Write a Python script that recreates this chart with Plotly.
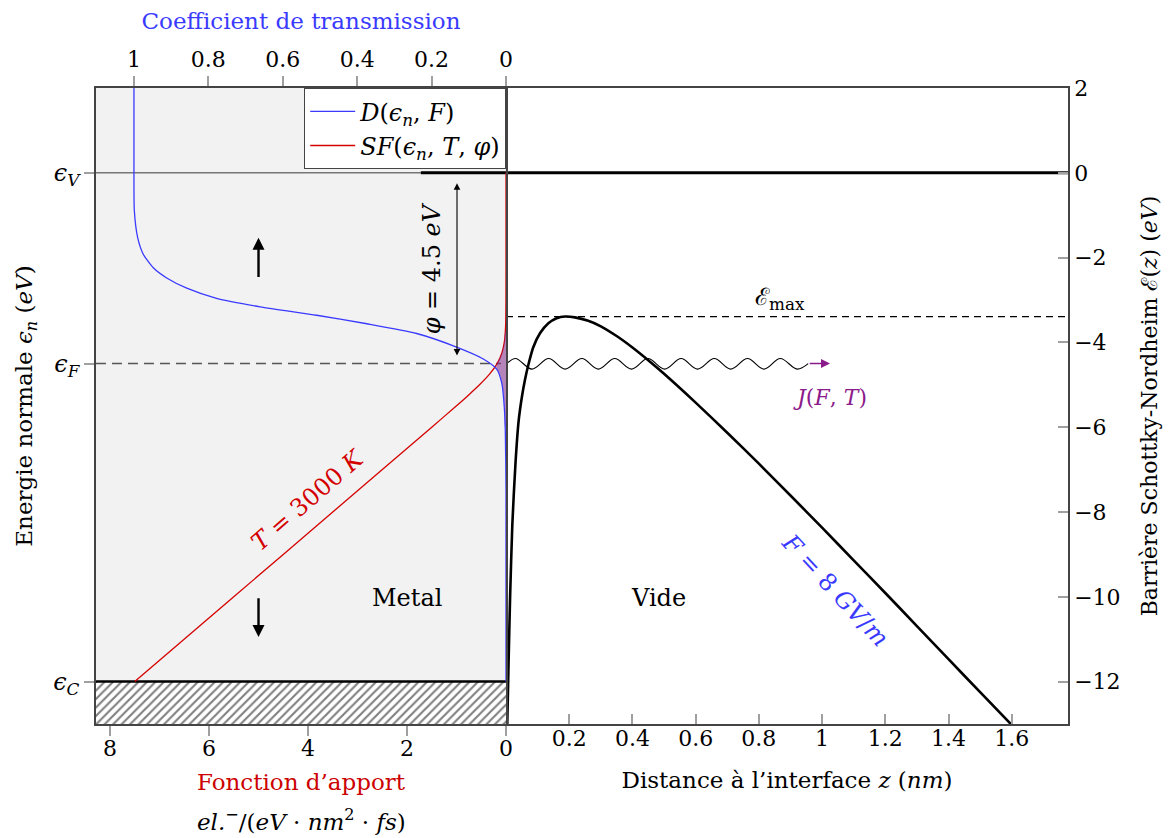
import plotly.graph_objects as go

# ---------------- data ----------------
# Energy reference levels (eV) and their left-axis labels
level_values = [0.0, -4.5, -12.0]
level_labels = ["<i>ϵ</i><sub><i>V</i></sub>", "<i>ϵ</i><sub><i>F</i></sub>", "<i>ϵ</i><sub><i>C</i></sub>"]
vacuum_level = 0.0
fermi_level = -4.5
conduction_level = -12.0
barrier_max = -3.39

# Transmission coefficient D(eps_n, F)  (top axis)
trans_energy = [2.0, 0.0, -0.89, -1.53, -1.92, -2.24, -2.48, -2.72, -2.96, -3.16, -3.36,
                -3.56, -3.79, -4.11, -4.39, -4.63, -4.95, -5.43, -6.06, -7.5, -12.0]
trans_coeff = [1.0, 1.0, 0.999, 0.99, 0.975, 0.948, 0.912, 0.858, 0.778, 0.661, 0.509,
               0.374, 0.240, 0.133, 0.061, 0.025, 0.0116, 0.0054, 0.0019, 0.0, 0.0]

# Supply function SF(eps_n, T, phi)  (bottom-left axis)
supply_energy = [-12.0, -10.0, -8.0, -6.0, -5.5, -5.25, -5.0, -4.75, -4.5, -4.25, -4.0,
                 -3.75, -3.5, -3.0, -2.0, 0.0]
supply_value = [7.50, 5.50, 3.50, 1.50, 1.005, 0.764, 0.535, 0.333, 0.179, 0.083, 0.035,
                0.014, 0.005, 0.001, 0.0, 0.0]

# Overlap region (emitted electrons), in transmission units
overlap_energy = [-3.75, -4.0, -4.25, -4.5, -4.6, -4.75, -5.0, -5.25, -5.5, -6.0]
overlap_trans = [0.0018, 0.0047, 0.011, 0.024, 0.026, 0.017, 0.0105, 0.0065, 0.004, 0.0018]

# Schottky-Nordheim barrier (bottom-right axis)
barrier_z = [0.004, 0.008, 0.013, 0.02, 0.03, 0.04, 0.05, 0.06, 0.071, 0.086, 0.108, 0.134,
             0.16, 0.187, 0.218, 0.26, 0.3, 0.35, 0.4, 0.45, 0.5, 0.6, 0.7, 0.8, 0.9, 1.0,
             1.1, 1.2, 1.3, 1.4, 1.5, 1.61]
barrier_E = [-13.0, -11.6, -10.0, -8.3, -6.85, -5.85, -5.3, -4.88, -4.52, -4.12, -3.78, -3.55,
             -3.43, -3.39, -3.41, -3.49, -3.62, -3.85, -4.12, -4.42, -4.74, -5.42, -6.13,
             -6.86, -7.61, -8.37, -9.14, -9.91, -10.69, -11.47, -12.25, -13.1]

# Emitted current (wavy arrow) crests / troughs
wave_z = [0.0, 0.030, 0.082, 0.135, 0.187, 0.240, 0.292, 0.344, 0.397, 0.449, 0.502,
          0.554, 0.606, 0.659, 0.711, 0.764, 0.816, 0.868, 0.921, 0.956]
wave_E = [-4.52, -4.38, -4.63, -4.38, -4.63, -4.38, -4.63, -4.38, -4.63, -4.38, -4.63,
          -4.38, -4.63, -4.38, -4.63, -4.38, -4.63, -4.38, -4.63, -4.5]
wave_arrow_end = 1.025

# Axis ticks and ranges
supply_ticks = [0, 2, 4, 6, 8]
trans_ticks = [0, 0.2, 0.4, 0.6, 0.8, 1]
dist_ticks = [0, 0.2, 0.4, 0.6, 0.8, 1, 1.2, 1.4, 1.6]
dist_labels = ["", "0.2", "0.4", "0.6", "0.8", "1", "1.2", "1.4", "1.6"]
energy_ticks = [-12, -10, -8, -6, -4, -2, 0, 2]
energy_range = [-13, 2]
dist_range = [0, 1.778]
supply_range = [8.283, 0]
trans_range = [1.102, 0]
vacuum_line_start = 1.72   # supply units, where the thick vacuum line begins
fermi_line_end = 0.1

# ---------------- styling ----------------
FONT = "DejaVu Serif"
BLUE = "#3a3aff"
RED = "#d40000"
PURPLE = "#8b1a8b"
FRAME = "#444444"
TICK = "#a0a0a0"
split = 410 / 972

fig = go.Figure()

# hatched region under conduction band
fig.add_trace(go.Scatter(
    x=[0, supply_range[0], supply_range[0], 0, 0],
    y=[energy_range[0], energy_range[0], conduction_level, conduction_level, energy_range[0]],
    xaxis="x2", yaxis="y", mode="lines", fill="toself", line=dict(width=0),
    fillcolor="white",
    fillpattern=dict(shape="/", fgcolor="black", bgcolor="white", size=6, solidity=0.35),
    showlegend=False, hoverinfo="skip"))

# vacuum level (thin in metal, thick part)
fig.add_trace(go.Scatter(x=[supply_range[0], 0], y=[vacuum_level, vacuum_level], xaxis="x2", yaxis="y",
                         mode="lines", line=dict(color="#777777", width=1.5), showlegend=False))
fig.add_trace(go.Scatter(x=[vacuum_line_start, 0], y=[vacuum_level, vacuum_level], xaxis="x2", yaxis="y",
                         mode="lines", line=dict(color="black", width=3), showlegend=False))
fig.add_trace(go.Scatter(x=dist_range, y=[vacuum_level, vacuum_level], xaxis="x", yaxis="y",
                         mode="lines", line=dict(color="black", width=3), showlegend=False))
# conduction band bottom
fig.add_trace(go.Scatter(x=[supply_range[0], 0], y=[conduction_level, conduction_level], xaxis="x2", yaxis="y",
                         mode="lines", line=dict(color="black", width=2.5), showlegend=False))
# Fermi level dashed
fig.add_trace(go.Scatter(x=[supply_range[0], fermi_line_end], y=[fermi_level, fermi_level], xaxis="x2", yaxis="y",
                         mode="lines", line=dict(color="#555555", width=1.5, dash="10px,6px"), showlegend=False))
# barrier max dashed
fig.add_trace(go.Scatter(x=dist_range, y=[barrier_max, barrier_max], xaxis="x", yaxis="y",
                         mode="lines", line=dict(color="black", width=1.2, dash="7px,5px"), showlegend=False))

# overlap (purple)
fig.add_trace(go.Scatter(
    x=[0] + overlap_trans + [0], y=[overlap_energy[0]] + overlap_energy + [overlap_energy[-1]],
    xaxis="x3", yaxis="y", mode="lines", fill="toself", line=dict(width=0, shape="spline"),
    fillcolor="rgba(128,40,140,0.55)", showlegend=False, hoverinfo="skip"))

# transmission coefficient
fig.add_trace(go.Scatter(
    x=trans_coeff, y=trans_energy, xaxis="x3", yaxis="y", mode="lines",
    line=dict(color=BLUE, width=1.3, shape="spline", smoothing=0.6),
    name="<i>D</i>(<i>ϵ</i><sub><i>n</i></sub>, <i>F</i>)", legendrank=1))

# supply function
fig.add_trace(go.Scatter(
    x=supply_value, y=supply_energy, xaxis="x2", yaxis="y", mode="lines",
    line=dict(color=RED, width=1.3, shape="spline", smoothing=0.6),
    name="<i>SF</i>(<i>ϵ</i><sub><i>n</i></sub>, <i>T</i>, <i>φ</i>)", legendrank=2))

# barrier
fig.add_trace(go.Scatter(
    x=barrier_z, y=barrier_E, xaxis="x", yaxis="y", mode="lines",
    line=dict(color="black", width=2.6, shape="spline", smoothing=0.6), showlegend=False))

# wavy emission line
fig.add_trace(go.Scatter(
    x=wave_z, y=wave_E, xaxis="x", yaxis="y2", mode="lines",
    line=dict(color="black", width=1.1, shape="spline", smoothing=1.0), showlegend=False))

ann = []
# purple arrow head of J
ann.append(dict(x=wave_arrow_end, y=fermi_level, ax=wave_z[-1], ay=fermi_level, xref="x", yref="y",
                axref="x", ayref="y", text="", showarrow=True, arrowhead=2, arrowsize=1.2,
                arrowwidth=1.5, arrowcolor=PURPLE))
# work function arrow
ann.append(dict(x=0.99, y=-4.31, ax=0.99, ay=-0.21, xref="x2", yref="y", axref="x2", ayref="y",
                text="", showarrow=True, arrowhead=2, startarrowhead=2, arrowside="end+start",
                arrowsize=1.2, arrowwidth=1.1, arrowcolor="black"))
# up / down arrows
ann.append(dict(x=5.0, y=-1.53, ax=5.0, ay=-2.49, xref="x2", yref="y", axref="x2", ayref="y",
                text="", showarrow=True, arrowhead=2, arrowsize=1.0, arrowwidth=2.4, arrowcolor="black"))
ann.append(dict(x=5.0, y=-10.95, ax=5.0, ay=-10.0, xref="x2", yref="y", axref="x2", ayref="y",
                text="", showarrow=True, arrowhead=2, arrowsize=1.0, arrowwidth=2.4, arrowcolor="black"))
# texts
ann.append(dict(x=1.5, y=-2.26, xref="x2", yref="y", text="<i>φ</i> = 4.5 <i>eV</i>", showarrow=False,
                textangle=-90, font=dict(family=FONT, size=24, color="black")))
ann.append(dict(x=4.0, y=-7.72, xref="x2", yref="y", text="<i>T</i> = 3000 <i>K</i>", showarrow=False,
                textangle=-41, font=dict(family=FONT, size=24, color=RED)))
ann.append(dict(x=2.0, y=-10.02, xref="x2", yref="y", text="Metal", showarrow=False,
                font=dict(family=FONT, size=24, color="black")))
ann.append(dict(x=0.481, y=-10.02, xref="x", yref="y", text="Vide", showarrow=False,
                font=dict(family=FONT, size=24, color="black")))
ann.append(dict(x=0.867, y=-2.96, xref="x", yref="y", text="ℰ<sub>max</sub>", showarrow=False,
                font=dict(family=FONT, size=24, color="black")))
ann.append(dict(x=1.025, y=-5.3, xref="x", yref="y", text="<i>J</i>(<i>F</i>, <i>T</i>)", showarrow=False,
                font=dict(family=FONT, size=22, color=PURPLE)))
ann.append(dict(x=1.041, y=-9.83, xref="x", yref="y", text="<i>F</i> = 8 <i>GV</i>/<i>m</i>", showarrow=False,
                textangle=47, font=dict(family=FONT, size=24, color=BLUE)))
# unit line of the supply-function axis
ann.append(dict(x=0.5, y=0, xref="x2 domain", yref="paper", yanchor="middle", yshift=-96,
                text="<i>el.</i><sup>−</sup>/(<i>eV</i> · <i>nm</i><sup>2</sup> · <i>fs</i>)",
                showarrow=False, font=dict(family=FONT, size=23, color="black")))

axis_common = dict(showgrid=False, zeroline=False, showline=True, linecolor=FRAME, linewidth=1.5,
                   ticklen=10, tickcolor=TICK, tickwidth=1.5, automargin=False,
                   tickfont=dict(family=FONT, size=22, color="black"))

fig.update_layout(
    width=1165, height=830,
    margin=dict(l=88, r=105, t=80, b=114),
    paper_bgcolor="white", plot_bgcolor="white",
    font=dict(family=FONT, size=22, color="black"),
    annotations=ann,
    shapes=[dict(type="rect", xref="x2 domain", yref="y domain", x0=0, x1=1, y0=0, y1=1,
                 fillcolor="#f2f2f2", line=dict(width=0), layer="below")],
    legend=dict(x=split, xanchor="right", y=1, yanchor="top", bgcolor="white",
                bordercolor=FRAME, borderwidth=1.2, font=dict(family=FONT, size=24),
                itemwidth=45, tracegroupgap=0),
    xaxis=dict(axis_common, domain=[split, 1], range=dist_range, anchor="y", side="bottom",
               tickvals=dist_ticks, ticktext=dist_labels, ticks="inside", mirror=True,
               ticklabelstandoff=-6,
               title=dict(text="Distance à l’interface <i>z</i> (<i>nm</i>)",
                          font=dict(family=FONT, size=23), standoff=22)),
    xaxis2=dict(axis_common, domain=[0, split], range=supply_range, anchor="y", side="bottom",
                tickvals=supply_ticks, ticks="outside", mirror=True, ticklabelstandoff=-6,
                title=dict(text="Fonction d’apport",
                           font=dict(family=FONT, size=23, color="#cc0000"), standoff=14)),
    xaxis3=dict(axis_common, overlaying="x2", range=trans_range, anchor="y", side="top",
                tickvals=trans_ticks, ticks="outside",
                title=dict(text="Coefficient de transmission", font=dict(family=FONT, size=23, color=BLUE),
                           standoff=16)),
    yaxis=dict(axis_common, domain=[0, 1], range=energy_range, anchor="x2", side="left",
               tickvals=level_values, ticktext=level_labels, ticks="outside", mirror=True,
               tickfont=dict(family=FONT, size=24, color="black"),
               title=dict(text="Energie normale <i>ϵ</i><sub><i>n</i></sub> (<i>eV</i>)",
                          font=dict(family=FONT, size=23), standoff=14)),
    yaxis2=dict(axis_common, overlaying="y", range=energy_range, anchor="x", side="right",
                tickvals=energy_ticks, ticks="inside",
                title=dict(text="Barrière Schottky-Nordheim ℰ(<i>z</i>) (<i>eV</i>)",
                           font=dict(family=FONT, size=22), standoff=22)),
)

fig.write_html("out.html")
